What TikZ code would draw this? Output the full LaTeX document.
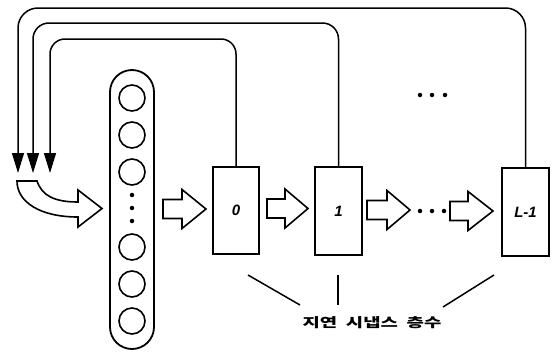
\documentclass[tikz,border=0pt]{standalone}
\usepackage{fontspec}
\usepackage{graphicx}
\setsansfont{Liberation Sans}
\newfontfamily\krfont{Noto Sans CJK KR}
\usetikzlibrary{arrows.meta}
\tikzset{
  line/.style={line width=1.5pt},
  stage/.style={draw, line width=1.8pt, minimum width=46pt, minimum height=87pt, inner sep=0pt,
    font=\sffamily\bfseries\itshape\fontsize{15}{15}\selectfont},
  neuron/.style={draw, circle, line width=1.6pt, minimum size=26pt, inner sep=0pt},
  dotf/.style={circle, fill, inner sep=0pt, minimum size=4.5pt},
  fb/.style={line width=1.5pt, -{Triangle[length=20pt,width=12pt]}},
  blk/.style={draw, line width=1.6pt, fill=white, line join=miter},
}
\newcommand\blockarr[5]{% x1 shaft start, x2 head base, x3 tip, y center, name
  \draw[blk] (#1,#4-9.5) -- (#2,#4-9.5) -- (#2,#4-19.5) -- (#3,#4) -- (#2,#4+19.5) -- (#2,#4+9.5) -- (#1,#4+9.5) -- cycle;
}
\begin{document}
\begin{tikzpicture}[x=1pt,y=-1pt]
\useasboundingbox (0,0) rectangle (557,351);
% input column
\node[draw, line width=1.8pt, rounded corners=22pt, minimum width=44pt, minimum height=279pt, inner sep=0pt] (col) at (132,209.5) {};
\foreach \y [count=\i] in {98,135,172,247,284,321}
  \node[neuron] (n\i) at (132,\y) {};
\foreach \y [count=\i] in {195,208,221}
  \node[dotf] (cd\i) at (132,\y) {};
% stages
\node[stage] (b0) at (236,210.5) {0};
\node[stage, minimum width=47pt, minimum height=88pt] (b1) at (338.5,211) {1};
\node[stage, minimum width=47pt, minimum height=88pt] (bL) at (525.5,212) {L-1};
% feedback lines
\coordinate (t1) at (50,173);
\coordinate (t2) at (33,173);
\coordinate (t3) at (18,173);
\draw[fb, rounded corners=15pt] (b0.north) |- (50,39) -- (t1);
\draw[fb, rounded corners=16pt] (b1.north) |- (33,23) -- (t2);
\draw[fb, rounded corners=20pt] (bL.north) |- (18,8) -- (t3);
% curved input arrow
\draw[blk] (17,181) -- (37,181) .. controls (42,196) and (55,202) .. (78,202) -- (78,190) -- (102,208.5) -- (78,227) -- (78,217) .. controls (40,217) and (17,202) .. (17,181) -- cycle;
% block arrows
\blockarr{163}{182}{206}{209}{a0}
\blockarr{267}{285}{308}{208.5}{a1}
\blockarr{367}{387}{410}{210}{a2}
\blockarr{450}{468}{493}{211}{a3}
% dots
\foreach \x [count=\i] in {420,432,444}
  \node[dotf] (md\i) at (\x,211) {};
\foreach \x [count=\i] in {420,432,445}
  \node[dotf] (td\i) at (\x,95) {};
% label
\node[font=\krfont\bfseries\fontsize{13}{13}\selectfont, inner sep=0pt] (lab) at (372,323) {\scalebox{1.45}[1]{지연\hspace{6pt}시냅스\hspace{6pt}층수}};
\coordinate (l1a) at (248,275); \coordinate (l1b) at (300,305);
\coordinate (l2a) at (338,275); \coordinate (l2b) at (338,305);
\coordinate (l3a) at (494,275); \coordinate (l3b) at (443,307);
\draw[line] (l1a) -- (l1b);
\draw[line] (l2a) -- (l2b);
\draw[line] (l3a) -- (l3b);
\end{tikzpicture}
\end{document}
